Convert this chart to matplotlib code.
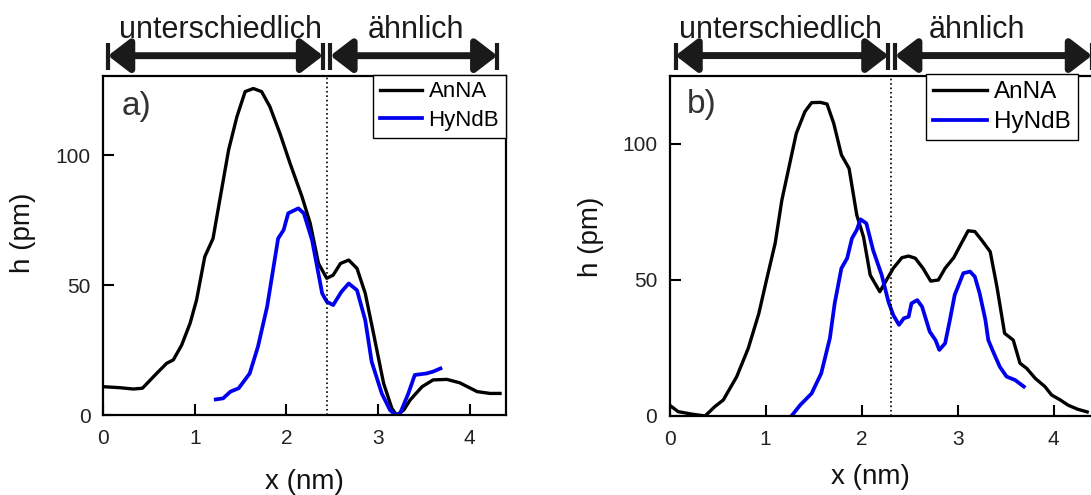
import matplotlib.pyplot as plt

plt.rcParams['font.family'] = ['Liberation Sans', 'DejaVu Sans']

# panel a) profiles
A_X_ANNA = [0, 0.185, 0.33, 0.43, 0.585, 0.695, 0.767, 0.858, 0.95, 1.02, 1.11, 1.2, 1.28, 1.37, 1.46,
            1.55, 1.64, 1.73, 1.82, 1.93, 2.04, 2.17, 2.26, 2.35, 2.44, 2.51, 2.59, 2.68, 2.77, 2.86,
            2.95, 3.06, 3.15, 3.2, 3.28, 3.35, 3.48, 3.6, 3.75, 3.89, 4.08, 4.22, 4.33]
A_H_ANNA = [10.9, 10.5, 10, 10.3, 16, 19.9, 21.2, 26.9, 35.3, 44.2, 60.9, 67.9, 84, 102, 114.7,
            124.4, 125.6, 124.4, 118.6, 108.3, 96.8, 84, 73.7, 58.3, 52.6, 53.8, 58.3, 59.6, 56.4, 46.8,
            31.4, 12.2, 2.6, 0, 1.9, 5.8, 10.9, 13.5, 13.7, 12.4, 9, 8.3, 8.3]
A_X_HYNDB = [1.23, 1.31, 1.39, 1.48, 1.6, 1.69, 1.79, 1.91, 1.97, 2.02, 2.13, 2.19, 2.28, 2.39, 2.44,
             2.51, 2.6, 2.68, 2.77, 2.86, 2.93, 3.04, 3.13, 3.19, 3.24, 3.33, 3.4, 3.53, 3.6, 3.68]
A_H_HYNDB = [6, 6.4, 9, 10.3, 16, 26.3, 41.7, 67.9, 71.2, 77.6, 79.5, 77.6, 67.3, 46.8, 43.6,
             42.3, 47.4, 50.6, 48, 36.5, 20.5, 8.3, 1.9, 0, 0.6, 8.3, 15.4, 16, 16.7, 17.9]

# panel b) profiles
B_X_ANNA = [0, 0.09, 0.23, 0.37, 0.47, 0.56, 0.7, 0.82, 0.93, 1.01, 1.1, 1.17, 1.26, 1.32, 1.41,
            1.48, 1.57, 1.64, 1.71, 1.79, 1.87, 1.95, 2.02, 2.09, 2.19, 2.26, 2.33, 2.42, 2.49, 2.56,
            2.64, 2.72, 2.8, 2.87, 2.96, 3.04, 3.11, 3.18, 3.25, 3.34, 3.41, 3.49, 3.58, 3.65, 3.72,
            3.81, 3.91, 3.98, 4.07, 4.15, 4.25, 4.35]
B_H_ANNA = [4, 1.6, 0.7, 0, 3.4, 5.9, 14.5, 24.9, 37.7, 50, 63.5, 79.4, 94.1, 103.9, 111.9,
            115.2, 115.3, 114.7, 107.6, 96, 91, 73.9, 65.9, 51.8, 45.7, 50, 54.3, 58.2, 58.8, 58,
            54.3, 49.6, 50, 54.3, 58.2, 63.5, 68.1, 67.8, 64.7, 60.4, 47.5, 30.4, 27.9, 19.4, 17.5,
            13.8, 10.8, 7.7, 5.9, 4, 2.5, 1.5]
B_X_HYNDB = [1.27, 1.36, 1.48, 1.58, 1.67, 1.72, 1.79, 1.85, 1.9, 1.95, 1.99, 2.05, 2.12, 2.21, 2.28,
             2.33, 2.39, 2.44, 2.49, 2.52, 2.58, 2.63, 2.71, 2.77, 2.81, 2.87, 2.92, 2.97, 3.06, 3.13,
             3.18, 3.23, 3.29, 3.32, 3.37, 3.44, 3.51, 3.6, 3.69]
B_H_HYNDB = [0, 4, 8.3, 15.7, 28.6, 41.4, 54.3, 58, 65.3, 68.4, 72.3, 70.8, 61, 51.8, 42,
             37.1, 33.5, 35.9, 36.5, 41.4, 42.6, 40.2, 31, 27.9, 24.3, 26.7, 35.3, 44.5, 52.5, 53.1,
             51.2, 45.1, 35.3, 27.9, 23.7, 18.1, 14.5, 13.2, 10.8]

LABELS = ['AnNA', 'HyNdB']
REGIONS = ['unterschiedlich', 'ähnlich']

fig = plt.figure(figsize=(10.91, 4.95), dpi=100)
axa = fig.add_axes([0.0944, 0.1616, 0.3694, 0.6848])
axb = fig.add_axes([0.6137, 0.1596, 0.396, 0.6869])

DARK = '#1a1a1a'


def style(ax, xmax, ymax):
    ax.set_xlim(0, xmax)
    ax.set_ylim(0, ymax)
    ax.set_xticks([0, 1, 2, 3, 4])
    ax.set_yticks([0, 50, 100])
    ax.tick_params(direction='in', length=8, width=1.5, labelsize=15, labelcolor='#222222',
                   top=False, right=False)
    ax.tick_params(axis='x', pad=10)
    ax.tick_params(axis='y', pad=9)
    for s in ax.spines.values():
        s.set_linewidth(1.6)
    ax.set_xlabel('x (nm)', fontsize=20, color='#111111')
    ax.set_ylabel('h (pm)', fontsize=20, color='#111111')


def regions(ax, x0, xm1, xm2, x1, xtxt1, xtxt2, xdiv):
    tr = ax.get_xaxis_transform()
    for a, b in [(x0, xm1), (xm2, x1)]:
        ax.annotate('', xy=(b, 1.06), xytext=(a, 1.06), xycoords=tr, textcoords=tr,
                    annotation_clip=False,
                    arrowprops=dict(arrowstyle='<|-|>,head_length=0.65,head_width=0.5',
                                    mutation_scale=20, color=DARK, lw=5, shrinkA=0, shrinkB=0))
    for x in [x0, xm1, xm2, x1]:
        ax.plot([x, x], [1.018, 1.097], color=DARK, lw=3, transform=tr, clip_on=False,
                solid_capstyle='butt')
    ax.text(xtxt1, 1.113, REGIONS[0], transform=tr, ha='center', va='baseline', fontsize=22,
            color=DARK)
    ax.text(xtxt2, 1.113, REGIONS[1], transform=tr, ha='center', va='baseline', fontsize=22,
            color=DARK)
    ax.axvline(xdiv, color='black', lw=1.2, ls=':')


# panel a
axa.plot(A_X_ANNA, A_H_ANNA, color='black', lw=2.4, label=LABELS[0])
axa.plot(A_X_HYNDB, A_H_HYNDB, color='#0000ee', lw=2.7, label=LABELS[1])
style(axa, 4.395, 130.4)
regions(axa, 0.055, 2.40, 2.48, 4.30, 1.28, 3.41, 2.44)
axa.text(0.047, 0.909, 'a)', transform=axa.transAxes, fontsize=24, color='#333333', va='center')
axa.legend(loc='upper left', bbox_to_anchor=(0.67, 1.004), borderaxespad=0, fontsize=16,
           frameon=True, fancybox=False, edgecolor='black', framealpha=1, handlelength=1.9,
           handletextpad=0.3, labelspacing=0.34, borderpad=0.3).get_frame().set_linewidth(1)
axa.xaxis.set_label_coords(0.5, -0.16)
axa.yaxis.set_label_coords(-0.166, 0.537)

# panel b
axb.plot(B_X_ANNA, B_H_ANNA, color='black', lw=2.4, label=LABELS[0])
axb.plot(B_X_HYNDB, B_H_HYNDB, color='#0000ee', lw=2.7, label=LABELS[1])
style(axb, 4.5, 125)
regions(axb, 0.0625, 2.28, 2.35, 4.40, 1.16, 3.2, 2.31)
axb.text(0.04, 0.915, 'b)', transform=axb.transAxes, fontsize=24, color='#333333', va='center')
axb.legend(loc='upper left', bbox_to_anchor=(0.594, 1.006), borderaxespad=0, fontsize=17.5,
           frameon=True, fancybox=False, edgecolor='black', framealpha=1, handlelength=2.2,
           handletextpad=0.3, labelspacing=0.32, borderpad=0.3).get_frame().set_linewidth(1)
axb.xaxis.set_label_coords(0.464, -0.14)
axb.yaxis.set_label_coords(-0.152, 0.526)

fig.savefig('out.png', dpi=100)
